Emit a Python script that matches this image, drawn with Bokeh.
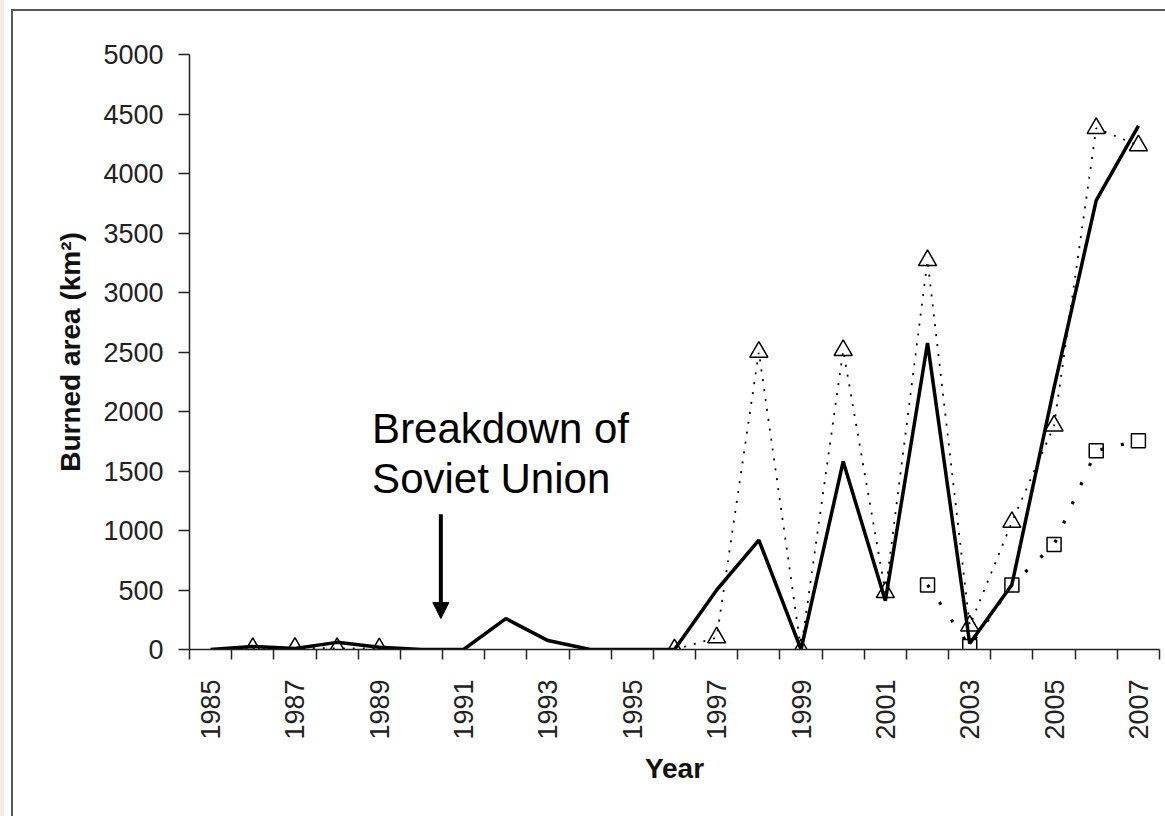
import math
from bokeh.plotting import figure
from bokeh.models import Range1d, FixedTicker, Label, Arrow, NormalHead, InlineStyleSheet
from bokeh.embed import file_html
from bokeh.resources import INLINE

nan = float("nan")

years = list(range(1985, 2008))
# solid thick line
total_area = [0, 25, 8, 60, 18, 0, 0, 260, 75, 0, 0, 0, 500, 920, 0, 1580, 410,
              2575, 50, 545, 2200, 3775, 4400]
# thin dotted line with triangle markers
triangle_series = [nan, 10, 12, 10, 8, nan, nan, nan, nan, nan, nan, 0, 100, 2500,
                   0, 2515, 480, 3270, 200, 1070, 1880, 4380, 4235]
# heavy dotted line with square markers
square_series = [nan] * 17 + [543, 25, 543, 882, 1671, 1755]

labelled_years = years[::2]
y_ticks = list(range(0, 5001, 500))

W, H = 1165, 816
p = figure(width=W, height=H, output_backend="svg", toolbar_location=None,
           x_range=Range1d(years[0] - 0.5, years[-1] + 0.5),
           y_range=Range1d(0, 5000),
           min_border_left=189, min_border_right=6, min_border_top=54,
           min_border_bottom=167)
p.outline_line_color = None
p.background_fill_color = "white"
p.border_fill_color = "white"
p.xgrid.visible = False
p.ygrid.visible = False

FONT = "Liberation Sans"

# x axis
xa = p.xaxis[0]
xa.ticker = FixedTicker(ticks=labelled_years,
                        minor_ticks=[y - 0.5 for y in years] + [years[-1] + 0.5])
xa.major_label_overrides = {y: str(y) for y in labelled_years}
xa.major_tick_out = 0
xa.major_tick_in = 0
xa.minor_tick_out = 10
xa.minor_tick_in = 0
xa.minor_tick_line_color = "#222222"
xa.minor_tick_line_width = 1.5
xa.axis_line_color = "#222222"
xa.axis_line_width = 1.5
xa.major_label_orientation = math.pi / 2
xa.major_label_standoff = 20
xa.major_label_text_font = FONT
xa.major_label_text_font_size = "27px"
xa.major_label_text_color = "#222222"
xa.axis_label = "Year"
xa.axis_label_text_font = FONT
xa.axis_label_text_font_size = "28px"
xa.axis_label_text_font_style = "bold"
xa.axis_label_text_color = "#111111"
xa.axis_label_standoff = 10

# y axis
ya = p.yaxis[0]
ya.ticker = FixedTicker(ticks=y_ticks, minor_ticks=[])
ya.major_tick_out = 11
ya.major_tick_in = 0
ya.major_tick_line_color = "#222222"
ya.major_tick_line_width = 1.5
ya.axis_line_color = "#222222"
ya.axis_line_width = 1.5
ya.major_label_standoff = 15
ya.major_label_text_font = FONT
ya.major_label_text_font_size = "27px"
ya.major_label_text_color = "#222222"
ya.axis_label = "Burned area (km\u00b2)"
ya.axis_label_text_font = FONT
ya.axis_label_text_font_size = "28px"
ya.axis_label_text_font_style = "bold"
ya.axis_label_text_color = "#111111"
ya.axis_label_standoff = 14

# series
p.line(years, total_area, line_color="black", line_width=3.5)
p.line(years, triangle_series, line_color="black", line_width=1.8, line_dash="2 8")
p.line(years, square_series, line_color="black", line_width=3.2, line_dash="3 18")
p.scatter(years, triangle_series, marker="triangle", size=18, fill_color=None,
          line_color="black", line_width=1.5)
p.scatter(years, square_series, marker="square", size=14, fill_color=None,
          line_color="black", line_width=1.5)

# annotation
p.add_layout(Label(x=1988.83, y=1856, text="Breakdown of", text_font=FONT,
                   text_font_size="42px", text_color="black",
                   text_baseline="alphabetic"))
p.add_layout(Label(x=1988.83, y=1436, text="Soviet Union", text_font=FONT,
                   text_font_size="42px", text_color="black",
                   text_baseline="alphabetic"))
p.add_layout(Arrow(x_start=1990.46, y_start=1136, x_end=1990.46, y_end=260,
                   line_color="black", line_width=4,
                   end=NormalHead(size=16, fill_color="black", line_color="black")))

# outer chart border (left and top edges visible) and beige page strip
p.stylesheets.append(InlineStyleSheet(css="""
:host { position: relative; }
:host::before {
  content: ""; position: absolute; left: 0; top: 0; width: 4px; height: 100%;
  background: #f2eedf; z-index: 20; pointer-events: none;
}
:host::after {
  content: ""; position: absolute; left: 11px; top: 9px;
  width: calc(100% - 11px); height: calc(100% - 9px);
  border-left: 2.5px solid #5a5a5a; border-top: 2.5px solid #5a5a5a;
  box-sizing: border-box; z-index: 20; pointer-events: none;
}
"""))

open("out.html", "w").write(file_html(p, INLINE))
